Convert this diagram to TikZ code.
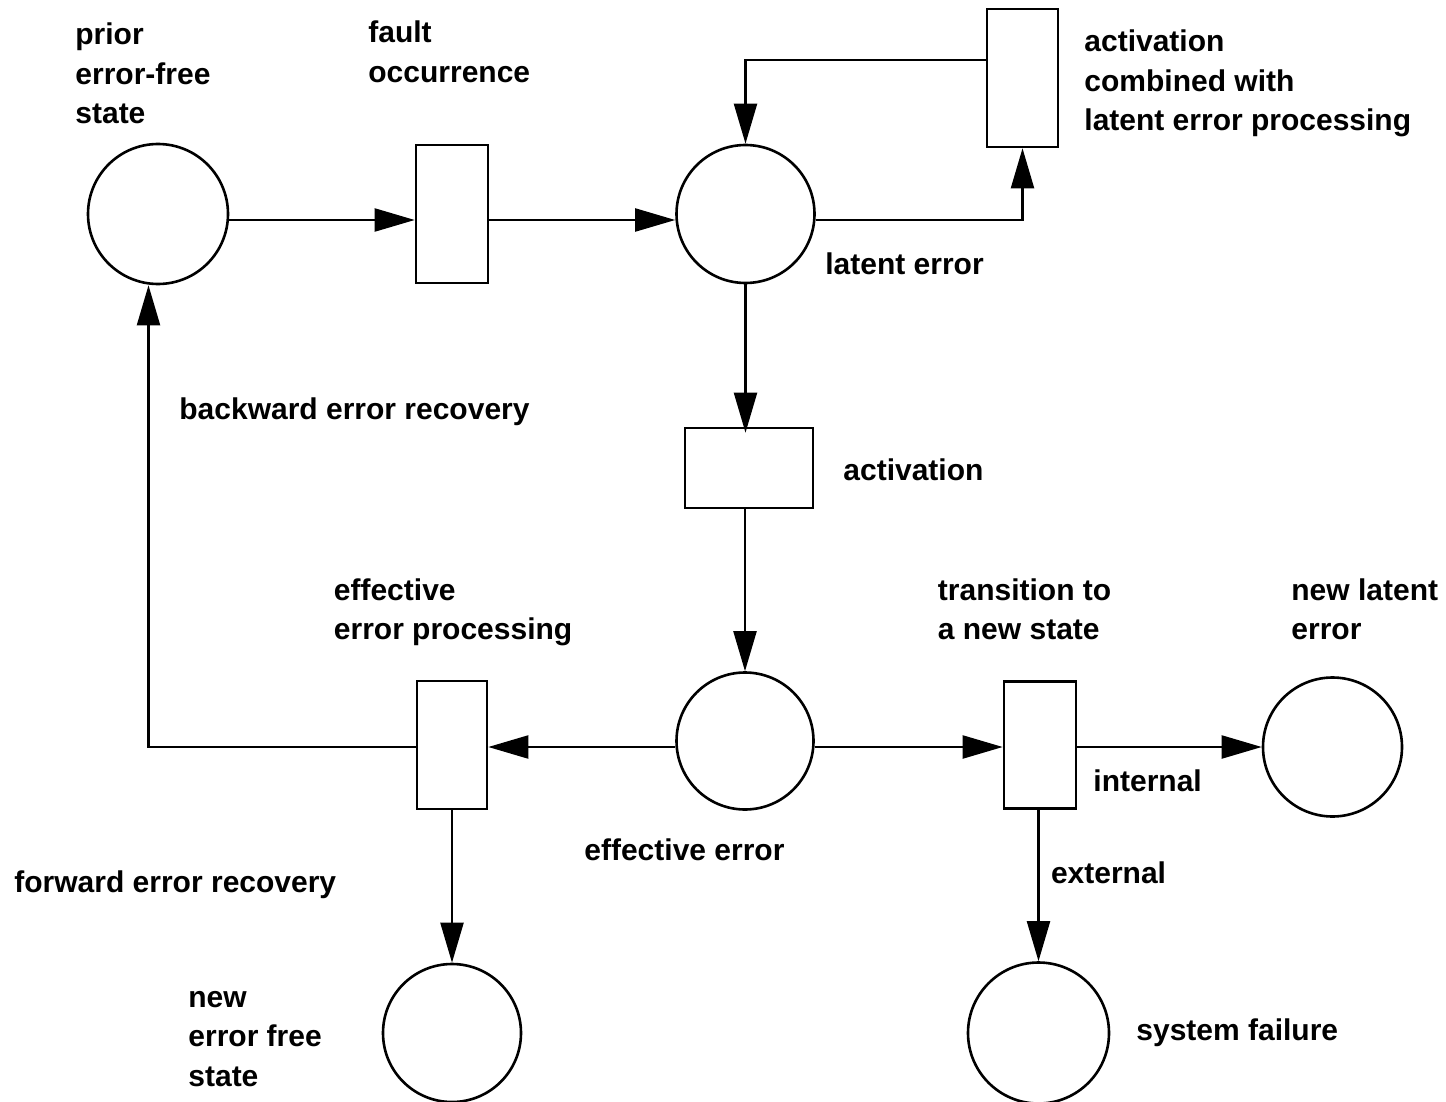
\documentclass[tikz,border=0pt]{standalone}
\usepackage{fontspec}
\setmainfont{Liberation Sans}
\usetikzlibrary{arrows.meta}
\newcommand{\lblines}[1]{\begin{tabular}[t]{@{}l@{}}#1\end{tabular}}
\begin{document}
\begin{tikzpicture}[x=0.5pt,y=-0.5pt,
  every node/.style={inner sep=0pt},
  place/.style={circle, draw, line width=1.3pt, minimum size=#1},
  place/.default=69pt,
  trans/.style={rectangle, draw, line width=1.3pt},
  flow/.style={line width=1.1pt, -{Triangle[length=20pt,width=11.5pt]}},
  lbl/.style={anchor=base west, font=\bfseries\fontsize{15}{19.75}\selectfont}]
\useasboundingbox (0,0) rectangle (1446,1102);

% places and transitions
\node[place=70pt] (P1) at (158,214) {};
\node[trans, minimum width=36pt, minimum height=69pt] (T1) at (452,214) {};
\node[place] (P2) at (745.5,214) {};
\node[trans, minimum width=35.5pt, minimum height=69pt] (T2) at (1022.5,78) {};
\node[trans, minimum width=64pt, minimum height=40pt] (T3) at (749,468) {};
\node[place=68.5pt] (P3) at (745,741) {};
\node[trans, minimum width=35pt, minimum height=64pt] (T4) at (452,745) {};
\node[trans, minimum width=36pt, minimum height=63.5pt] (T5) at (1040,745) {};
\node[place=69.5pt] (P4) at (1332.5,747) {};
\node[place] (P5) at (452,1033) {};
\node[place=70.5pt] (P6) at (1038.5,1033) {};

% arcs
\draw[flow] ([yshift=-3pt]P1.east) -- ([yshift=-3pt]T1.west);
\draw[flow] ([yshift=-3pt]T1.east) -- ([yshift=-3pt]P2.west);
\draw[flow] ([yshift=-3pt]P2.east) -| (T2.south);
\draw[flow] (T2.west |- 0,60) -| (P2.north);
\draw[flow] (P2.south) -- ([yshift=-3pt]P2.south |- T3.north);
\draw[flow] (T3.south -| P3.north) -- (P3.north);
\draw[flow] (P3.west |- 0,747) -- (T4.east |- 0,747);
\draw[flow] (P3.east |- 0,747) -- (T5.west |- 0,747);
\draw[flow] (T5.east |- 0,747) -- (P4.west |- 0,747);
\draw[flow] (T4.west |- 0,747) -| ([xshift=-4.75pt]P1.south);
\draw[flow] (T4.south -| P5.north) -- (P5.north);
\draw[flow] (T5.south -| P6.north) -- (P6.north);

% labels
\node[lbl] (lP1) at (75,45) {\lblines{prior\\error-free\\state}};
\node[lbl] (lT1) at (368,43) {\lblines{fault\\occurrence}};
\node[lbl] (lT2) at (1084,52) {\lblines{activation\\combined with\\latent error processing}};
\node[lbl] (lP2) at (825,274) {latent error};
\node[lbl] (lback) at (179,419) {backward error recovery};
\node[lbl] (lT3) at (843,480) {activation};
\node[lbl] (lT4) at (333.5,600) {\lblines{effective\\error processing}};
\node[lbl] (lT5) at (937.5,600) {\lblines{transition to\\a new state}};
\node[lbl] (lP4) at (1291,600) {\lblines{new latent\\error}};
\node[lbl] (lint) at (1093,791) {internal};
\node[lbl] (lext) at (1050.6,883) {external};
\node[lbl] (lP3) at (584,860) {effective error};
\node[lbl] (lfwd) at (14,892) {forward error recovery};
\node[lbl] (lP5) at (188,1007) {\lblines{new\\error free\\state}};
\node[lbl] (lP6) at (1136,1040) {system failure};
\end{tikzpicture}
\end{document}
